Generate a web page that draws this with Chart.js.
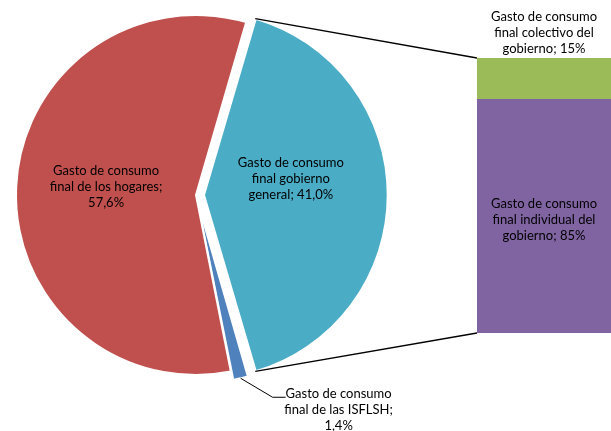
<!DOCTYPE html>
<html>
<head>
<meta charset="utf-8">
<script src="https://cdn.jsdelivr.net/npm/chart.js@4"></script>
<style>
  html, body { margin: 0; padding: 0; background: #fff; }
  #wrap { position: relative; width: 611px; height: 431px; overflow: hidden; }
  #wrap canvas { position: absolute; left: 0; top: 0; }
</style>
</head>
<body>
<div id="wrap">
  <canvas id="pieChart" width="611" height="431"></canvas>
  <canvas id="barChart" width="611" height="431"></canvas>
</div>
<script>
/* ------------------------------------------------------------
   Data
   ------------------------------------------------------------ */
const pieCategories = [
    "Gasto de consumo\nfinal gobierno\ngeneral",
    "Gasto de consumo\nfinal de las ISFLSH",
    "Gasto de consumo\nfinal de los hogares"
];
const pieValues = [41.0, 1.4, 57.6];
const pieColors = ["#4BACC6", "#4F81BD", "#C0504D"];
const pieOffsets = [32, 18, 0];

const barCategories = [
    "Gasto de consumo\nfinal individual del\ngobierno",
    "Gasto de consumo\nfinal colectivo del\ngobierno"
];
const barValues = [85, 15];
const barColors = ["#8064A2", "#9BBB59"];

const FONT = "13px Lato";
const LINE_H = 16;
const MAX_LINE = 110;

/* ------------------------------------------------------------
   Helpers
   ------------------------------------------------------------ */
function fmtPct(v) {
    return v.toFixed(1).replace(".", ",") + "%";
}

// the value goes on the last line if it fits, otherwise on its own line
function buildLines(ctx, name, pct) {
    const lines = name.split("\n");
    const last = lines.pop() + ";";
    if (ctx.measureText(last + " " + pct).width <= MAX_LINE) {
        lines.push(last + " " + pct);
    } else {
        lines.push(last, pct);
    }
    return lines;
}

function drawLines(ctx, lines, cx, cy) {
    const top = cy - (lines.length - 1) * LINE_H / 2;
    lines.forEach((l, i) => ctx.fillText(l, cx, top + i * LINE_H));
}

// where Chart.js v4 actually paints an exploded arc
function arcGeom(arc) {
    const tr = (arc.options.offset || 0) / 4;
    const mid = (arc.startAngle + arc.endAngle) / 2;
    const fix = 1 - Math.sin(Math.min(Math.PI, arc.endAngle - arc.startAngle));
    return {
        cx: arc.x + Math.cos(mid) * tr,
        cy: arc.y + Math.sin(mid) * tr,
        r: arc.outerRadius + tr * fix,
        mid: mid
    };
}

/* ------------------------------------------------------------
   Plugin: pie labels
   ------------------------------------------------------------ */
const labelNudge = [[-5, -16], [0, 0], [0, -4]];

const pieLabelPlugin = {
    id: "pieLabels",
    afterDatasetsDraw(chart) {
        const ctx = chart.ctx;
        const arcs = chart.getDatasetMeta(0).data;
        ctx.save();
        ctx.font = FONT;
        ctx.fillStyle = "#000";
        ctx.textAlign = "center";
        ctx.textBaseline = "middle";
        arcs.forEach((arc, i) => {
            const g = arcGeom(arc);
            const lines = buildLines(ctx, pieCategories[i], fmtPct(pieValues[i]));
            if (pieValues[i] < 5) {
                // small slice: label outside with a leader line
                const ax = g.cx + Math.cos(g.mid) * g.r;
                const ay = g.cy + Math.sin(g.mid) * g.r;
                const ex = ax + 32, ey = ay + 19;
                ctx.strokeStyle = "#000";
                ctx.lineWidth = 1;
                ctx.beginPath();
                ctx.moveTo(ax, ay);
                ctx.lineTo(ex, ey);
                ctx.lineTo(ex + 13, ey);
                ctx.stroke();
                drawLines(ctx, lines, ex + 66, ey + 13);
            } else {
                const n = labelNudge[i];
                drawLines(ctx, lines,
                    g.cx + Math.cos(g.mid) * g.r / 2 + n[0],
                    g.cy + Math.sin(g.mid) * g.r / 2 + n[1]);
            }
        });
        ctx.restore();
    }
};

/* ------------------------------------------------------------
   Chart: pie
   ------------------------------------------------------------ */
const pieChart = new Chart(document.getElementById("pieChart"), {
    type: "pie",
    data: {
        labels: pieCategories,
        datasets: [{
            data: pieValues,
            backgroundColor: pieColors,
            borderColor: "#fff",
            borderWidth: 2,
            offset: pieOffsets
        }]
    },
    options: {
        responsive: false,
        animation: false,
        rotation: 90 - pieValues[0] / 100 * 360 / 2,
        radius: 180,
        layout: { padding: { left: 0, top: 0, right: 219, bottom: 41 } },
        plugins: { legend: { display: false }, tooltip: { enabled: false } }
    },
    plugins: [pieLabelPlugin]
});

/* ------------------------------------------------------------
   Plugin: bar labels + connector lines
   ------------------------------------------------------------ */
const barLabelPlugin = {
    id: "barLabels",
    afterDatasetsDraw(chart) {
        const ctx = chart.ctx;
        ctx.save();
        ctx.font = FONT;
        ctx.fillStyle = "#000";
        ctx.textAlign = "center";
        ctx.textBaseline = "middle";
        chart.data.datasets.forEach((ds, i) => {
            const bar = chart.getDatasetMeta(i).data[0];
            const lines = buildLines(ctx, barCategories[i], barValues[i] + "%");
            const blockH = lines.length * LINE_H;
            const cy = (bar.base - bar.y) > blockH ? (bar.y + bar.base) / 2 + 4 : bar.y - blockH / 2 - 1;
            drawLines(ctx, lines, bar.x, cy);
        });

        // connectors from the exploded slice to the bar
        const teal = pieChart.getDatasetMeta(0).data[0];
        const g = arcGeom(teal);
        const topBar = chart.getDatasetMeta(1).data[0];
        const bottomBar = chart.getDatasetMeta(0).data[0];
        const left = topBar.x - topBar.width / 2;
        ctx.strokeStyle = "#000";
        ctx.lineWidth = 1.3;
        ctx.beginPath();
        ctx.moveTo(g.cx + Math.cos(teal.startAngle) * g.r, g.cy + Math.sin(teal.startAngle) * g.r);
        ctx.lineTo(left, topBar.y);
        ctx.moveTo(g.cx + Math.cos(teal.endAngle) * g.r, g.cy + Math.sin(teal.endAngle) * g.r);
        ctx.lineTo(left, bottomBar.base);
        ctx.stroke();
        ctx.restore();
    }
};

/* ------------------------------------------------------------
   Chart: stacked bar
   ------------------------------------------------------------ */
new Chart(document.getElementById("barChart"), {
    type: "bar",
    data: {
        labels: [""],
        datasets: barValues.map((v, i) => ({
            label: barCategories[i],
            data: [v],
            backgroundColor: barColors[i],
            borderWidth: 0,
            barPercentage: 1,
            categoryPercentage: 1
        }))
    },
    options: {
        responsive: false,
        animation: false,
        layout: { padding: { left: 477, top: 58, right: -10, bottom: 98 } },
        scales: {
            x: { display: false, stacked: true },
            y: { display: false, stacked: true, min: 0, max: 100 }
        },
        plugins: { legend: { display: false }, tooltip: { enabled: false } }
    },
    plugins: [barLabelPlugin]
});
</script>
</body>
</html>
